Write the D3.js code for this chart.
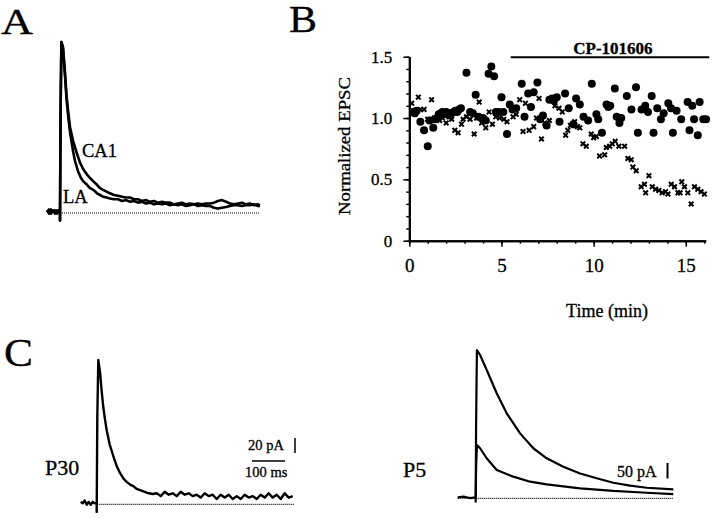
<!DOCTYPE html>
<html><head><meta charset="utf-8">
<script src="https://cdn.jsdelivr.net/npm/d3@7"></script>
<style>
html,body{margin:0;padding:0;background:#fff;}
svg text{font-family:"Liberation Serif","Times New Roman",serif;fill:#000;stroke:#000;stroke-width:0.3px;}
</style></head>
<body>
<svg id="fig" width="720" height="518"></svg>
<script>
// ---------- DATA ----------
// Panel A: normalized EPSC traces (time in ms-like units, normalized amplitude)
const traceCA1 = [[-6.5,0.01],[-5.5,-0.01],[-4.5,0.015],[-3.5,0.0],[-2.5,0.01],[-1.5,-0.01],[-0.5,0.01],[0,0],[0,-0.05],[0.3,0.6],[0.7,1.0],[1.5,0.97],[2.5,0.82],[3.3,0.68],[4.2,0.58],[5,0.50],[6.5,0.42],[8.3,0.35],[10,0.29],[11.7,0.25],[13.5,0.22],[15,0.20],[16.7,0.18],[18.5,0.16],[20,0.14],[21.5,0.13],[23.3,0.12],[25,0.11],[27,0.10],[29,0.095],[31,0.09],[33,0.085],[35,0.085],[37,0.075],[39,0.075],[41,0.065],[43,0.07],[45,0.06],[47,0.065],[49,0.055],[51,0.06],[53,0.055],[55,0.055],[57,0.045],[59,0.05],[61,0.055],[63,0.045],[65,0.05],[67,0.045],[69,0.05],[71,0.045],[73,0.05],[75,0.05],[77,0.055],[79,0.065],[81,0.07],[83,0.06],[85,0.05],[87,0.045],[89,0.05],[91,0.055],[93,0.045],[95,0.05],[97,0.04],[99,0.045],[100,0.04]];
const traceLA = [[-6.5,0.0],[-5.5,0.015],[-4.5,-0.01],[-3.5,0.01],[-2.5,-0.01],[-1.5,0.01],[-0.5,0.0],[0,0],[0,-0.05],[0.3,0.6],[0.7,1.0],[1.5,0.96],[2.5,0.80],[3.3,0.66],[4.2,0.55],[5,0.47],[6.5,0.36],[7.5,0.30],[9,0.24],[10.5,0.20],[11.7,0.18],[13.5,0.16],[15,0.14],[16.7,0.13],[18.5,0.11],[20,0.10],[21.5,0.09],[23.3,0.085],[25,0.08],[27,0.075],[29,0.075],[31,0.065],[33,0.07],[35,0.06],[37,0.065],[39,0.055],[41,0.06],[43,0.05],[45,0.055],[47,0.045],[49,0.05],[51,0.045],[53,0.05],[55,0.04],[57,0.045],[59,0.04],[61,0.045],[63,0.035],[65,0.04],[67,0.045],[69,0.035],[71,0.04],[73,0.035],[75,0.035],[77,0.025],[79,0.02],[81,0.025],[83,0.03],[85,0.035],[87,0.04],[89,0.04],[91,0.035],[93,0.04],[95,0.04],[97,0.045],[99,0.035],[100,0.035]];
const labelsA = ["CA1","LA"];

// Panel B: normalized EPSC vs time (min)
const controlPts = [[0.2,1.05],[0.3,1.04],[0.4,1.06],[0.6,0.97],[0.8,0.90],[1.0,0.77],[1.1,0.98],[1.3,0.92],[1.4,0.99],[1.5,1.0],[1.6,1.03],[1.7,1.04],[1.8,1.05],[1.9,1.03],[2.0,1.05],[2.1,1.04],[2.2,1.02],[2.3,1.04],[2.4,1.05],[2.5,1.06],[2.6,1.05],[2.7,1.07],[2.8,1.08],[3.1,1.37],[3.3,1.05],[3.45,1.04],[3.6,1.19],[3.75,1.01],[4.0,1.0],[4.15,0.98],[4.3,1.36],[4.45,1.42],[4.6,1.34],[4.7,1.05],[4.85,1.05],[5.0,1.17],[5.1,1.05],[5.3,0.87],[5.45,1.11],[5.6,1.07],[5.8,1.08],[6.1,1.28],[6.25,1.01],[6.45,1.20],[6.6,1.09],[6.75,1.21],[6.95,1.29],[7.1,0.99],[7.25,1.02],[7.45,0.94],[7.6,1.15],[7.75,1.16],[7.85,1.14],[8.0,1.17],[8.15,0.97],[8.45,1.20],[8.65,1.08],[8.9,0.95],[9.05,1.16],[9.25,1.11],[9.45,1.01],[9.7,0.98],[9.9,1.28],[10.15,1.03],[10.25,0.99],[10.45,0.88],[10.7,1.11],[10.8,1.09],[10.9,1.10],[11.15,1.24],[11.25,1.01],[11.4,0.96],[11.5,1.0],[11.8,1.18],[12.05,1.07],[12.3,1.25],[12.4,0.88],[12.6,1.07],[12.8,1.10],[12.95,1.05],[13.15,1.18],[13.25,0.88],[13.45,1.08],[13.65,0.99],[13.8,1.04],[14.05,1.12],[14.2,1.08],[14.3,0.88],[14.5,1.06],[14.75,0.99],[15.1,1.13],[15.2,0.90],[15.35,1.10],[15.45,0.99],[15.65,0.86],[15.75,1.13],[15.95,0.99],[16.1,0.99]];
const drugPts = [[0.13,1.12],[0.3,1.06],[0.49,1.17],[0.6,1.07],[0.8,1.07],[1.0,0.99],[1.21,1.15],[1.35,1.0],[1.5,0.99],[1.65,0.98],[1.8,1.0],[2.0,0.96],[2.15,1.01],[2.3,0.99],[2.47,0.90],[2.65,0.88],[2.83,0.95],[2.92,0.99],[3.1,1.01],[3.3,0.99],[3.52,0.87],[3.65,1.0],[3.79,1.13],[3.92,0.96],[4.15,0.92],[4.33,1.05],[4.51,0.95],[4.69,1.01],[4.9,1.0],[5.13,0.99],[5.3,0.97],[5.63,1.01],[5.8,1.03],[5.99,1.15],[6.17,0.89],[6.3,1.12],[6.5,0.90],[6.75,0.93],[6.9,1.0],[7.04,1.16],[7.17,0.83],[7.35,0.96],[7.6,0.98],[7.9,1.10],[8.12,1.08],[8.3,1.05],[8.48,0.86],[8.6,0.90],[8.74,0.94],[8.97,0.97],[9.12,0.93],[9.25,0.92],[9.42,0.79],[9.6,0.77],[9.87,0.87],[10.0,0.84],[10.15,0.85],[10.32,0.69],[10.6,0.70],[10.69,0.76],[10.87,0.77],[11.01,0.79],[11.17,0.81],[11.37,0.77],[11.68,0.77],[11.86,0.67],[12.04,0.66],[12.13,0.60],[12.31,0.57],[12.58,0.44],[12.76,0.46],[12.82,0.39],[13.0,0.53],[13.18,0.44],[13.36,0.42],[13.54,0.41],[13.72,0.39],[13.9,0.40],[14.03,0.38],[14.21,0.46],[14.39,0.44],[14.57,0.39],[14.69,0.39],[14.78,0.48],[14.93,0.44],[15.11,0.39],[15.29,0.30],[15.47,0.44],[15.65,0.42],[15.83,0.40],[16.01,0.38]];
const yTicksB = [0, 0.5, 1.0, 1.5];
const yTickLabelsB = ["0", "0.5", "1.0", "1.5"];
const xTicksB = [0, 5, 10, 15];
const drugLabel = "CP-101606";
const drugWindow = [5.5, 16.27];

// Panel C: P30 and P5 traces
const traceP30 = [[-8,0.01],[-7,0.0],[-6,0.02],[-5,-0.01],[-4,0.01],[-3,-0.01],[-2,0.01],[-1,0.0],[0,0],[0,-0.06],[0.3,0.6],[0.8,1.0],[1.7,0.91],[2.5,0.78],[3.3,0.67],[4.2,0.58],[5,0.51],[6.5,0.41],[8.3,0.33],[10,0.26],[11.7,0.21],[13.5,0.17],[15,0.15],[16.7,0.13],[18.3,0.12],[20,0.10],[22,0.09],[24,0.08],[26,0.07],[28,0.065],[30,0.07],[32,0.05],[34,0.08],[36,0.06],[38,0.07],[40,0.05],[42,0.08],[44,0.06],[46,0.07],[48,0.05],[50,0.06],[52,0.04],[54,0.07],[56,0.05],[58,0.06],[60,0.03],[62,0.06],[64,0.04],[66,0.06],[68,0.03],[70,0.05],[72,0.03],[74,0.06],[76,0.04],[78,0.05],[80,0.03],[82,0.06],[84,0.04],[86,0.07],[88,0.04],[90,0.06],[92,0.03],[94,0.07],[96,0.04],[98,0.05]];
const traceP5big = [[-9,0.0],[-6,0.005],[-3,-0.005],[0,0],[0,-0.03],[0.2,0.5],[0.6,1.0],[2.2,0.966],[5.5,0.864],[10.5,0.706],[15.5,0.57],[22.2,0.434],[28.8,0.333],[35.5,0.265],[43.8,0.208],[52.2,0.162],[60.5,0.129],[68.8,0.099],[77.2,0.079],[85.5,0.065],[98.8,0.054]];
const traceP5small = [[0,0],[0.2,0.2],[0.6,0.355],[2.2,0.333],[5.5,0.265],[10.5,0.185],[18.8,0.14],[27.2,0.106],[35.5,0.088],[52.2,0.061],[68.8,0.043],[85.5,0.031],[98.8,0.022]];
const labelsC = ["P30", "P5"];
const scaleLabels = ["20 pA", "100 ms", "50 pA"];

// ---------- DRAW ----------
const svg = d3.select("#fig");

function panelLetter(txt, x, y, size, len){
  svg.append("text").attr("x", x).attr("y", y).attr("font-size", size)
    .attr("textLength", len).attr("lengthAdjust", "spacingAndGlyphs").text(txt);
}
panelLetter("A", 1, 34, 36, 32);
panelLetter("B", 289, 32, 37, 28);
panelLetter("C", 4, 366, 40, 29);

function drawTrace(g, data, xs, ys, w){
  g.append("path").datum(data)
    .attr("d", d3.line().x(d => xs(d[0])).y(d => ys(d[1])))
    .attr("fill", "none").attr("stroke", "#000").attr("stroke-width", w)
    .attr("stroke-linejoin", "round");
}
function baseline(g, xs, ys, t0, t1){
  g.append("line").attr("x1", xs(t0)).attr("x2", xs(t1))
    .attr("y1", ys(0)+1).attr("y2", ys(0)+1)
    .attr("stroke", "#000").attr("stroke-width", 1.2).attr("stroke-dasharray", "1,1");
}

// ---- Panel A ----
const gA = svg.append("g");
const xA = d3.scaleLinear([0, 100], [60, 260]);
const yA = d3.scaleLinear([0, 1], [212, 42]);
baseline(gA, xA, yA, 0, 100);
drawTrace(gA, traceCA1, xA, yA, 2.6);
drawTrace(gA, traceLA, xA, yA, 2.6);
gA.append("text").attr("x", 82).attr("y", 157).attr("font-size", 18.5).text(labelsA[0]);
gA.append("text").attr("x", 63).attr("y", 203).attr("font-size", 18.5).text(labelsA[1]);

// ---- Panel B ----
const gB = svg.append("g");
const xB = d3.scaleLinear([0, 16.08], [409.3, 705.7]);
const yB = d3.scaleLinear([0, 1.5], [240.7, 56.7]);

const yMinor = d3.range(0, 1.51, 0.1).map(v => +v.toFixed(2));
const xMinor = d3.range(0, 16.5, 1);
const yAxisMinor = gB.append("g").attr("transform", `translate(${xB(0)},0)`)
  .call(d3.axisLeft(yB).tickValues(yMinor).tickSize(3).tickSizeOuter(0).tickFormat(""));
const xAxisMinor = gB.append("g").attr("transform", `translate(0,${yB(0)})`)
  .call(d3.axisBottom(xB).tickValues(xMinor).tickSize(3).tickSizeOuter(0).tickFormat(""));
const yAxis = gB.append("g").attr("transform", `translate(${xB(0)},0)`)
  .call(d3.axisLeft(yB).tickValues(yTicksB).tickSize(6).tickSizeOuter(0).tickPadding(11)
    .tickFormat((d, i) => yTickLabelsB[i]));
const xAxis = gB.append("g").attr("transform", `translate(0,${yB(0)})`)
  .call(d3.axisBottom(xB).tickValues(xTicksB).tickSize(6).tickSizeOuter(0).tickPadding(12)
    .tickFormat(d3.format("d")));
[yAxisMinor, xAxisMinor, yAxis, xAxis].forEach(a => {
  a.selectAll("path.domain").attr("stroke", "#000").attr("stroke-width", 2);
  a.selectAll(".tick line").attr("stroke", "#000").attr("stroke-width", 1.5);
});
yAxis.selectAll("text").attr("font-size", 17).attr("font-family", "Liberation Serif");
xAxis.selectAll("text").attr("font-size", 19).attr("font-family", "Liberation Serif");

gB.append("text").attr("transform", `translate(350,146) rotate(-90)`)
  .attr("text-anchor", "middle").attr("font-size", 17).attr("textLength", 138)
  .attr("lengthAdjust", "spacingAndGlyphs").text("Normalized EPSC");
gB.append("text").attr("x", 607).attr("y", 317).attr("text-anchor", "middle")
  .attr("font-size", 18).text("Time (min)");

// drug bar
gB.append("line").attr("x1", xB(drugWindow[0])).attr("x2", xB(drugWindow[1]))
  .attr("y1", 57.3).attr("y2", 57.3).attr("stroke", "#000").attr("stroke-width", 2);
gB.append("text").attr("x", xB((drugWindow[0] + drugWindow[1]) / 2) + 3).attr("y", 54)
  .attr("text-anchor", "middle").attr("font-size", 17).attr("font-weight", "bold").text(drugLabel);

// points
gB.append("g").selectAll("circle").data(controlPts).join("circle")
  .attr("cx", d => xB(d[0])).attr("cy", d => yB(d[1])).attr("r", 4).attr("fill", "#000");
gB.append("g").selectAll("path").data(drugPts).join("path")
  .attr("d", d => {
    const x = xB(d[0]), y = yB(d[1]), s = 2.3;
    return `M${x-s},${y-s}L${x+s},${y+s}M${x-s},${y+s}L${x+s},${y-s}`;
  })
  .attr("stroke", "#000").attr("stroke-width", 2).attr("fill", "none");

// ---- Panel C left (P30) ----
const gC1 = svg.append("g");
const xC1 = d3.scaleLinear([0, 100], [96.7, 296.7]);
const yC1 = d3.scaleLinear([0, 1], [503.3, 360]);
baseline(gC1, xC1, yC1, 0, 99);
drawTrace(gC1, traceP30, xC1, yC1, 2.4);
gC1.append("text").attr("x", 45).attr("y", 475).attr("font-size", 22).text(labelsC[0]);
gC1.append("text").attr("x", 248).attr("y", 450).attr("font-size", 14.5).text(scaleLabels[0]);
gC1.append("line").attr("x1", 295).attr("x2", 295).attr("y1", 438).attr("y2", 453)
  .attr("stroke", "#000").attr("stroke-width", 1.5);
gC1.append("line").attr("x1", 252).attr("x2", 285).attr("y1", 461).attr("y2", 461)
  .attr("stroke", "#000").attr("stroke-width", 1.5);
gC1.append("text").attr("x", 245).attr("y", 477).attr("font-size", 14.5).text(scaleLabels[1]);

// ---- Panel C right (P5) ----
const gC2 = svg.append("g");
const xC2 = d3.scaleLinear([0, 100], [475.7, 675.7]);
const yC2 = d3.scaleLinear([0, 1], [497.3, 350]);
baseline(gC2, xC2, yC2, -9, 99);
drawTrace(gC2, traceP5small, xC2, yC2, 2.2);
drawTrace(gC2, traceP5big, xC2, yC2, 2.2);
gC2.append("text").attr("x", 403).attr("y", 477).attr("font-size", 22).text(labelsC[1]);
gC2.append("text").attr("x", 617).attr("y", 477).attr("font-size", 16).text(scaleLabels[2]);
gC2.append("line").attr("x1", 667.5).attr("x2", 667.5).attr("y1", 463).attr("y2", 478.5)
  .attr("stroke", "#000").attr("stroke-width", 2);
</script>
</body></html>
